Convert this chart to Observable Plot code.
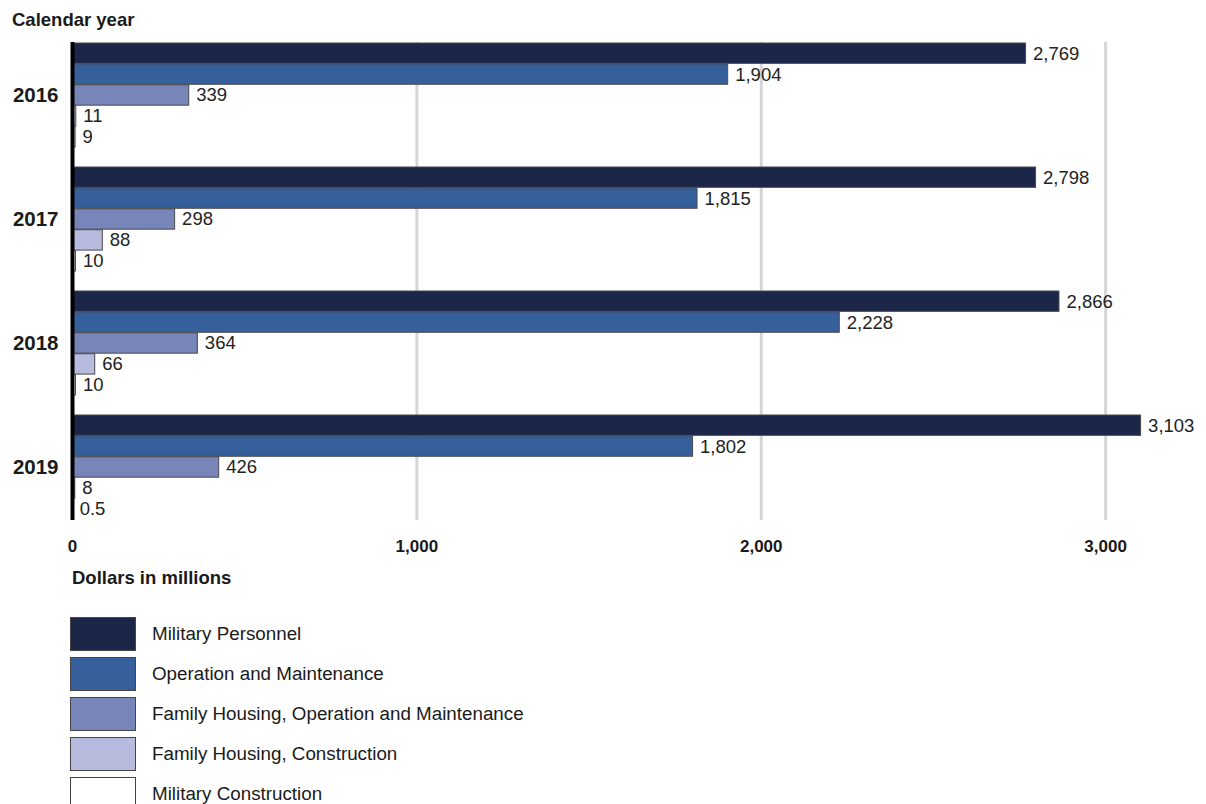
<!DOCTYPE html>
<html>
<head>
<meta charset="utf-8">
<script src="https://cdn.jsdelivr.net/npm/d3@7"></script>
<script src="https://cdn.jsdelivr.net/npm/@observablehq/plot@0.6"></script>
<style>
  html, body { margin: 0; padding: 0; background: #fff; }
  body { width: 1206px; height: 804px; position: relative; overflow: hidden; font-family: "Liberation Sans", Arial, sans-serif; color: #1a1a1a; }
  #title { position: absolute; left: 12px; top: 9px; font-size: 18.5px; font-weight: bold; }
  #chart { position: absolute; left: 0; top: 30px; }
  #xlabel { position: absolute; left: 72px; top: 567px; font-size: 18.5px; font-weight: bold; }
  #legend { position: absolute; left: 70px; top: 614px; }
  .row { display: flex; align-items: center; height: 40px; margin: 0; }
  .row .sw { width: 64px; height: 32px; border: 1px solid #444; box-sizing: content-box; }
  .row .lab { margin-left: 16px; font-size: 18.8px; }
</style>
</head>
<body>
<div id="title"></div>
<div id="chart"></div>
<div id="xlabel"></div>
<div id="legend"></div>
<script>
const titleText = "Calendar year";
const xLabelText = "Dollars in millions";
const years = ["2016", "2017", "2018", "2019"];
const categories = [
  "Military Personnel",
  "Operation and Maintenance",
  "Family Housing, Operation and Maintenance",
  "Family Housing, Construction",
  "Military Construction"
];
const militaryPersonnel = [2769, 2798, 2866, 3103];
const operationMaintenance = [1904, 1815, 2228, 1802];
const familyHousingOM = [339, 298, 364, 426];
const familyHousingConstruction = [11, 88, 66, 8];
const militaryConstruction = [9, 10, 10, 0.5];
const colors = ["#1b2649", "#35609c", "#7785b8", "#b7bbde", "#ffffff"];
const xTicks = [0, 1000, 2000, 3000];

const series = [militaryPersonnel, operationMaintenance, familyHousingOM, familyHousingConstruction, militaryConstruction];
const data = years.flatMap((yr, i) => categories.map((c, j) => ({year: yr, category: c, index: j, value: series[j][i]})));

document.getElementById("title").textContent = titleText;
document.getElementById("xlabel").textContent = xLabelText;

const height = 535, marginTop = 12, marginBottom = 45;
const paddingInner = 0.16;
const rangeH = height - marginTop - marginBottom;
const step = rangeH / (years.length - paddingInner);
const bw = step * (1 - paddingInner);
const slot = bw / categories.length;
const fmt = d3.format(",");

const marks = [
  Plot.ruleX([1000, 2000, 3000], {stroke: "#d6d6d6", strokeWidth: 3})
];
categories.forEach((c, j) => {
  const sub = data.filter(d => d.index === j);
  marks.push(Plot.barX(sub, {
    x: "value", y: "year", fill: colors[j], stroke: "#4a4a4a", strokeWidth: 1,
    insetTop: j * slot, insetBottom: (categories.length - 1 - j) * slot
  }));
  marks.push(Plot.text(sub, {
    x: "value", y: "year", text: d => fmt(d.value), dx: 7, dy: (j - 2) * slot,
    textAnchor: "start", fontSize: 18.5, fill: "#222"
  }));
});
marks.push(Plot.ruleX([0], {stroke: "#000", strokeWidth: 4}));
marks.push(Plot.axisX({ticks: xTicks, tickFormat: d3.format(","), tickSize: 0, tickPadding: 19, fontWeight: "bold", fontSize: 17, label: null}));
marks.push(Plot.axisY({tickSize: 0, tickPadding: 14, fontWeight: "bold", fontSize: 20.5, label: null}));

const chart = Plot.plot({
  width: 1206,
  height,
  marginLeft: 72,
  marginRight: 32,
  marginTop,
  marginBottom,
  style: {fontFamily: "Liberation Sans, Arial, sans-serif", fontSize: "18px", color: "#1a1a1a", background: "transparent"},
  x: {domain: [0, 3200]},
  y: {domain: years, paddingInner, paddingOuter: 0},
  marks
});
document.getElementById("chart").appendChild(chart);

const legend = document.getElementById("legend");
categories.forEach((c, j) => {
  const row = document.createElement("div");
  row.className = "row";
  const sw = document.createElement("div");
  sw.className = "sw";
  sw.style.background = colors[j];
  const lab = document.createElement("div");
  lab.className = "lab";
  lab.textContent = c;
  row.appendChild(sw);
  row.appendChild(lab);
  legend.appendChild(row);
});
</script>
</body>
</html>
